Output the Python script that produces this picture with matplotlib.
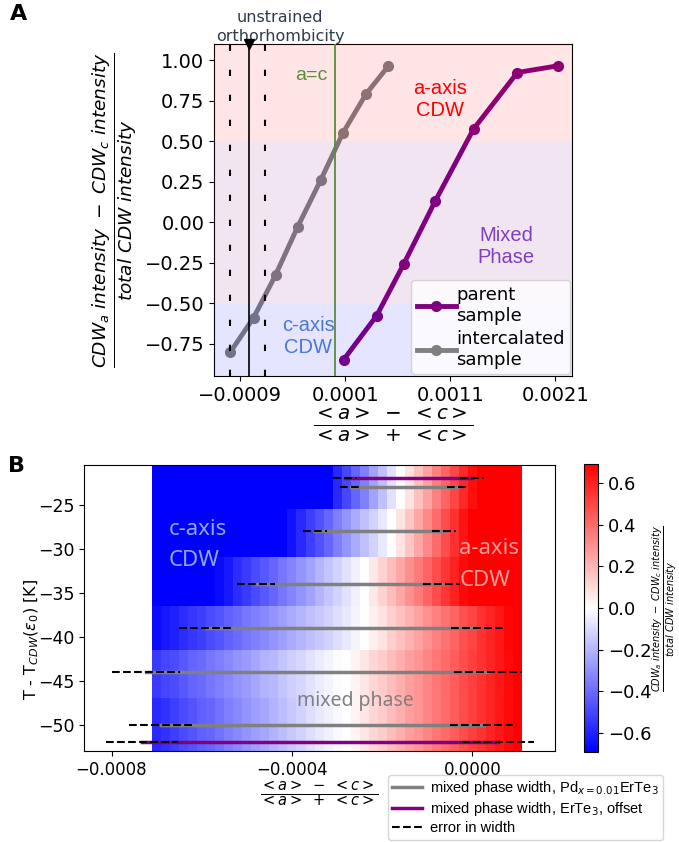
import numpy as np
import matplotlib
matplotlib.use("Agg")
import matplotlib.pyplot as plt
from matplotlib.ticker import FuncFormatter, FixedLocator
from matplotlib.lines import Line2D
import matplotlib.transforms as mtransforms

# ---------------- data: panel A ----------------
parent_strain = [0.000084, 0.000400, 0.000656, 0.000957, 0.001322, 0.001740, 0.002122]
parent_frac = [-0.85, -0.577, -0.26, 0.13, 0.575, 0.924, 0.965]
inter_strain = [-0.000995, -0.000773, -0.000564, -0.000354, -0.000131, 0.000078, 0.000297, 0.000512]
inter_frac = [-0.803, -0.59, -0.327, -0.03, 0.263, 0.551, 0.79, 0.965]
unstrained_center = -0.000814
unstrained_low = -0.000995
unstrained_high = -0.000662
a_eq_c = 0.0
xticksA = [-0.0009, 0.0001, 0.0011, 0.0021]
yticksA = [-0.75, -0.50, -0.25, 0.00, 0.25, 0.50, 0.75, 1.00]

# ---------------- data: panel B ----------------
strain_bins = np.round(np.arange(-0.0007, 0.000101, 0.00002), 6)   # 41 bin centres
temps = [-23, -28, -34, -39, -44, -50]
row_m23 = [-0.69, -0.69, -0.69, -0.69, -0.69, -0.69, -0.69, -0.69, -0.69, -0.69,
           -0.69, -0.69, -0.69, -0.69, -0.69, -0.69, -0.69, -0.69, -0.69, -0.69,
           -0.58, -0.50, -0.42, -0.34, -0.25, -0.17, -0.08, 0.00, 0.08, 0.17,
           0.25, 0.34, 0.42, 0.50, 0.58, 0.65, 0.69, 0.69, 0.69, 0.69, 0.69]
row_m28 = [-0.69, -0.69, -0.69, -0.69, -0.69, -0.69, -0.69, -0.69, -0.69, -0.69,
           -0.69, -0.69, -0.69, -0.69, -0.69, -0.64, -0.58, -0.52, -0.47, -0.41,
           -0.35, -0.29, -0.23, -0.17, -0.12, -0.06, 0.00, 0.08, 0.16, 0.24,
           0.32, 0.40, 0.48, 0.56, 0.64, 0.69, 0.69, 0.69, 0.69, 0.69, 0.69]
row_m34 = [-0.69, -0.69, -0.69, -0.69, -0.69, -0.69, -0.69, -0.66, -0.62, -0.57,
           -0.53, -0.49, -0.45, -0.41, -0.37, -0.33, -0.29, -0.25, -0.20, -0.16,
           -0.12, -0.08, -0.04, 0.00, 0.06, 0.12, 0.18, 0.24, 0.30, 0.36,
           0.42, 0.48, 0.54, 0.60, 0.66, 0.69, 0.69, 0.69, 0.69, 0.69, 0.69]
row_m39 = [-0.66, -0.63, -0.60, -0.57, -0.54, -0.52, -0.49, -0.46, -0.43, -0.40,
           -0.37, -0.34, -0.32, -0.29, -0.26, -0.23, -0.20, -0.17, -0.15, -0.12,
           -0.09, -0.06, -0.03, 0.00, 0.04, 0.08, 0.13, 0.17, 0.21, 0.25,
           0.30, 0.34, 0.38, 0.42, 0.47, 0.51, 0.55, 0.59, 0.63, 0.67, 0.69]
row_m44 = [-0.53, -0.50, -0.48, -0.45, -0.42, -0.40, -0.37, -0.35, -0.32, -0.29,
           -0.27, -0.24, -0.21, -0.19, -0.16, -0.13, -0.11, -0.08, -0.05, -0.03,
           -0.01, 0.00, 0.03, 0.07, 0.11, 0.14, 0.18, 0.22, 0.26, 0.29,
           0.33, 0.37, 0.40, 0.44, 0.48, 0.52, 0.55, 0.59, 0.63, 0.66, 0.69]
row_m50 = [-0.58, -0.55, -0.52, -0.49, -0.46, -0.43, -0.41, -0.38, -0.35, -0.32,
           -0.29, -0.26, -0.24, -0.21, -0.18, -0.15, -0.12, -0.09, -0.06, -0.04,
           -0.02, 0.00, 0.03, 0.07, 0.11, 0.14, 0.18, 0.22, 0.26, 0.29,
           0.33, 0.37, 0.40, 0.44, 0.48, 0.52, 0.55, 0.59, 0.63, 0.66, 0.69]

# mixed phase widths (left edge, right edge, error) for Pd-intercalated sample
mp_temps = [-23, -28, -34, -39, -44, -50]
mp_left = [-0.000269, -0.000350, -0.000480, -0.000591, -0.000724, -0.000690]
mp_right = [-0.000033, -0.0000628, -0.0000683, 0.0000126, 0.0000337, 0.0000226]
mp_err = [0.0000244, 0.0000266, 0.0000415, 0.0000600, 0.0000754, 0.0000715]
# parent ErTe3, offset
par_temps = [-22, -52]
par_left = [-0.000282, -0.000733]
par_right = [-0.0000018, 0.0000559]
par_err = [0.0000266, 0.0000800]
xticksB = [-0.0008, -0.0004, 0.0000]
yticksB = [-50, -45, -40, -35, -30, -25]
cbticks = [-0.6, -0.4, -0.2, 0.0, 0.2, 0.4, 0.6]

# ---------------- figure ----------------
W, H = 679, 842
fig = plt.figure(figsize=(W / 100, H / 100), dpi=100)

def frac_box(l, t, r, b):
    return [l / W, 1 - b / H, (r - l) / W, (b - t) / H]

minus = lambda s: s.replace('-', '\u2212')
fmt4 = FuncFormatter(lambda v, p: minus(f"{v:.4f}") if abs(v) > 1e-12 else "0.0000")

# ---------------- panel A ----------------
axA = fig.add_axes(frac_box(214, 44, 572, 376))
axA.plot(parent_strain, parent_frac, '-o', color='purple', lw=3.5, ms=7,
         label='parent\nsample', zorder=2)
axA.plot(inter_strain, inter_frac, '-o', color='gray', lw=3.5, ms=7,
         label='intercalated\nsample', zorder=2)
axA.axhspan(0.5, 1.2, color='red', alpha=0.1, lw=0, zorder=3)
axA.axhspan(-0.5, 0.5, color='purple', alpha=0.1, lw=0, zorder=3)
axA.axhspan(-1.2, -0.5, color='blue', alpha=0.1, lw=0, zorder=3)
axA.axvline(unstrained_center, color='black', lw=1.2, zorder=4)
axA.axvline(unstrained_low, color='black', lw=1.5, ls=(0, (3, 9)), zorder=4)
axA.axvline(unstrained_high, color='black', lw=1.5, ls=(0, (3, 9)), zorder=4)
axA.axvline(a_eq_c, color='#5b8c3a', lw=1.3, zorder=4)
axA.set_xlim(-0.00115, 0.00226)
axA.set_ylim(-0.95, 1.10)
axA.plot([unstrained_center], [1.10], marker='v', color='black', ms=7,
         clip_on=False, zorder=6)
axA.xaxis.set_major_locator(FixedLocator(xticksA))
axA.xaxis.set_major_formatter(fmt4)
axA.set_yticks(yticksA)
axA.yaxis.set_major_formatter(FuncFormatter(lambda v, p: minus(f"{v:.2f}")))
axA.tick_params(labelsize=14)
axA.set_xlabel(r'$\frac{<a>\ -\ <c>}{<a>\ +\ <c>}$', fontsize=20.5, labelpad=1)
axA.set_ylabel(r'$\frac{CDW_a\ intensity\ -\ CDW_c\ intensity}{total\ CDW\ intensity}$',
               fontsize=19, labelpad=4)
trA = mtransforms.blended_transform_factory(axA.transData, axA.transAxes)
axA.text(-0.00052, 1.0, 'unstrained\northorhombicity', transform=trA,
         ha='center', va='bottom', fontsize=11.5, color='#2e3b4e',
         linespacing=1.35)
axA.text(-0.000224, 0.908, 'a=c', color='#5b8c3a', fontsize=14,
         family='Liberation Sans', ha='center', va='center', zorder=5)
axA.text(0.001005, 0.76, 'a-axis\nCDW', color='red', fontsize=14.5,
         family='Liberation Sans', ha='center', va='center', zorder=5)
axA.text(0.001633, -0.15, 'Mixed\nPhase', color='#7f3fbf', fontsize=14.5,
         family='Liberation Sans', ha='center', va='center', zorder=5)
axA.text(-0.000252, -0.705, 'c-axis\nCDW', color='#4a78d4', fontsize=14.5,
         family='Liberation Sans', ha='center', va='center', zorder=5)
legA = axA.legend(loc='lower right', fontsize=13, borderaxespad=0.1,
                  handlelength=2.2, labelspacing=0.3, borderpad=0.3,
                  handletextpad=0.0)
legA.set_zorder(10)

# ---------------- panel B ----------------
axB = fig.add_axes(frac_box(84, 465, 555, 751))
Z = np.array([row_m23, row_m28, row_m34, row_m39, row_m44, row_m50])
T = np.array(temps)
mesh = axB.pcolormesh(strain_bins, T[::-1], Z[::-1], cmap='bwr',
                      vmin=-0.69, vmax=0.69, shading='nearest', zorder=1)
for t, l, r, e in zip(mp_temps, mp_left, mp_right, mp_err):
    axB.plot([l, r], [t, t], color='gray', lw=2.5, zorder=2)
    axB.plot([l - e, l + e], [t, t], 'k--', lw=1.5, zorder=3)
    axB.plot([r - e, r + e], [t, t], 'k--', lw=1.5, zorder=3)
for t, l, r, e in zip(par_temps, par_left, par_right, par_err):
    axB.plot([l, r], [t, t], color='purple', lw=2.5, zorder=2)
    axB.plot([l - e, l + e], [t, t], 'k--', lw=1.5, zorder=3)
    axB.plot([r - e, r + e], [t, t], 'k--', lw=1.5, zorder=3)
axB.set_xlim(-0.000861, 0.000183)
axB.set_ylim(-53, -20.5)
axB.xaxis.set_major_locator(FixedLocator(xticksB))
axB.xaxis.set_major_formatter(fmt4)
axB.set_yticks(yticksB)
axB.yaxis.set_major_formatter(FuncFormatter(lambda v, p: minus(f"{v:.0f}")))
axB.tick_params(axis='x', labelsize=12)
axB.tick_params(axis='y', labelsize=12.5)
axB.set_xlabel(r'$\frac{<a>\ -\ <c>}{<a>\ +\ <c>}$', fontsize=15, labelpad=1)
axB.set_ylabel(r'T - T$_{CDW}$($\epsilon_0$) [K]', fontsize=11.5)
axB.yaxis.set_label_coords(-0.092, 0.39)
axB.text(-0.000673, -29.6, 'c-axis\nCDW', color='#93a6ea', fontsize=16,
         family='Noto Sans', ha='left', va='center', linespacing=1.65, zorder=4)
axB.text(-0.000029, -31.8, 'a-axis\nCDW', color='#ff9c9c', fontsize=16,
         family='Noto Sans', ha='left', va='center', linespacing=1.65, zorder=4)
axB.text(-0.00026, -47.35, 'mixed phase', color='gray', fontsize=14,
         family='Noto Sans', ha='center', va='center', zorder=4)

cax = fig.add_axes(frac_box(584, 464, 598, 752))
cb = fig.colorbar(mesh, cax=cax)
cb.set_ticks(cbticks)
cb.ax.yaxis.set_major_formatter(FuncFormatter(lambda v, p: minus(f"{v:.1f}")))
cb.ax.tick_params(labelsize=13)
cb.set_label(r'$\frac{CDW_a\ intensity\ -\ CDW_c\ intensity}{total\ CDW\ intensity}$',
             fontsize=10)
cb.ax.yaxis.set_label_coords(4.75, 0.5)

handles = [Line2D([], [], color='gray', lw=2.5),
           Line2D([], [], color='purple', lw=2.5),
           Line2D([], [], color='black', lw=1.5, ls='--')]
labels = [r'mixed phase width, Pd$_{x=0.01}$ErTe$_3$',
          r'mixed phase width, ErTe$_3$, offset',
          'error in width']
fig.legend(handles, labels, loc='upper left',
           bbox_to_anchor=(388 / W, 1 - 775 / H),
           prop={'family': 'Liberation Sans', 'size': 10.5},
           handlelength=2.0, labelspacing=0.2, borderpad=0.3,
           handletextpad=0.6, borderaxespad=0)

fig.text(10 / W, 1 - 4 / H, 'A', fontsize=16, fontweight='bold', va='top')
fig.text(8 / W, 1 - 456 / H, 'B', fontsize=16, fontweight='bold', va='top')

fig.savefig('out.png', dpi=100)
